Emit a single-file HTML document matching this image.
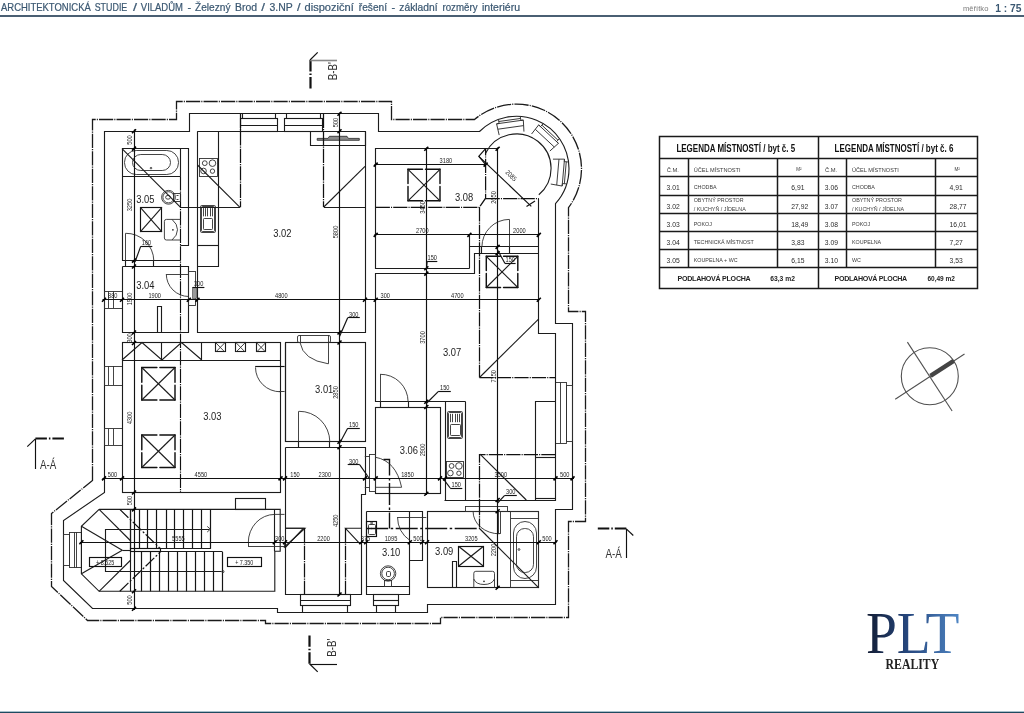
<!DOCTYPE html>
<html lang="cs"><head><meta charset="utf-8"><title>Architektonická studie</title>
<style>
html,body{margin:0;padding:0;background:#fff;}
body{width:1024px;height:713px;overflow:hidden;position:relative;font-family:"Liberation Sans",sans-serif;}
#hdr{position:absolute;left:0;top:0;width:1024px;height:15px;border-bottom:2px solid #4a5f73;}
#ftr{position:absolute;left:0;top:711px;width:1024px;height:2px;background:linear-gradient(#a9c0cb 0,#a9c0cb 40%,#1f4a60 40%,#1f4a60 100%);}
svg{position:absolute;left:0;top:0;will-change:transform;opacity:0.999;}
svg *{fill:none;}
svg tspan{fill:inherit;stroke:inherit;}
.w{stroke:#1c1c1c;stroke-width:1.12;}
.t{stroke:#303030;stroke-width:0.9;}
.d{stroke:#111;stroke-width:1.15;}
.st{stroke:#151515;stroke-width:1.2;}
.kd2{stroke:#111;stroke-width:1.2;stroke-dasharray:12 2 2 2;}
.o{stroke:#1a1a1a;stroke-width:1.3;stroke-dasharray:14.2 1.1 1.1 1.1;}
.k{stroke:#111;stroke-width:1.5;stroke-dasharray:9 1.5;}
.kd{stroke:#111;stroke-width:1.25;stroke-dasharray:14.2 1.1 1.1 1.1;}
.ks{stroke:#111;stroke-width:1.45;stroke-linecap:round;}
.sg{stroke:#888;stroke-width:1.6;}
.tb{stroke:#1a1a1a;stroke-width:1.5;}
.tk{stroke:#000;stroke-width:1.6;}
.ax{stroke:#111;stroke-width:1.15;stroke-dasharray:14.2 1.1 1.1 1.1;}
.k2{stroke:#111;stroke-width:1.4;stroke-dasharray:22 2.5 2.5 2.5;}
svg .tvf{fill:#8a8a8a;stroke:#222;stroke-width:0.8;}
svg .gf{fill:#999;stroke:#444;stroke-width:0.6;}
svg .tf{fill:#333;stroke:none;}
.sk{stroke:#111;stroke-width:2.2;stroke-dasharray:11.5 2 1.5 2;}
.cp{stroke:#505050;stroke-width:1.1;}
.cpb{stroke:#444;stroke-width:4.4;}
svg text.logo{font-family:"Liberation Serif",serif;fill:url(#lg);}
svg text.logo2{font-family:"Liberation Serif",serif;fill:#222;font-weight:bold;}
text.lp2{font-weight:bold;fill:#222;}
svg text{fill:#222;stroke:none;font-family:"Liberation Sans",sans-serif;}
text.dm{fill:#1c1c1c;}
text.rm{fill:#222;}
svg text.hd{fill:#3b5872;stroke:#3b5872;stroke-width:0.22;}
svg text.hs{fill:#7a7a7a;}
svg text.hb{fill:#3b5872;font-weight:bold;}
text.sec{fill:#333;}
text.lt{font-weight:bold;fill:#111;}
text.lc{fill:#3a3a3a;}
text.ln{fill:#2a2a2a;}
text.lp{font-weight:bold;fill:#222;}
</style></head>
<body>
<div id="hdr"></div>
<svg width="1024" height="713" viewBox="0 0 1024 713">
<path class="o" d="M92.5,480.5 L92.5,119.5 L176.5,119.5 L176.5,101.5 L391.5,101.5 L391.5,119.5 L474.5,119.5 A65,65 0 0 1 581.5,168.5 A65,65 0 0 1 568.5,207.6 L568.5,311.5 L585.5,311.5 L585.5,521.5 L568.5,521.5 L568.5,617.5 L440.5,617.5 L440.5,623.5 L265.5,623.5 L265.5,620.5 L87.5,620.5 L51.5,586.5 L51.5,513.5 Z"/>
<path class="w" d="M104.5,492.5 L104.5,131.5 L189.5,131.5 L189.5,113.5 L378.5,113.5 L378.5,131.5 L479.5,131.5 A52.5,52.5 0 0 1 569,168.5 A52.5,52.5 0 0 1 555.5,203.65 L555.5,323.5 L572.5,323.5 L572.5,509.5 L555.5,509.5 L555.5,604.5 L427.5,604.5 L427.5,612.5 L277.5,612.5 L277.5,608.5 L92.5,608.5 L63.5,580.5 L63.5,520.5 Z"/>
<rect class="w" x="240.5" y="118.5" width="37.0" height="13.0"/>
<line class="w" x1="240.6" y1="125.5" x2="277.3" y2="125.5"/>
<polyline class="w" points="242.5,118.5 242.5,113.5"/>
<polyline class="w" points="275.5,118.5 275.5,113.5"/>
<rect class="w" x="284.5" y="118.5" width="38.0" height="13.0"/>
<line class="w" x1="284.8" y1="125.5" x2="322.6" y2="125.5"/>
<polyline class="w" points="286.5,118.5 286.5,113.5"/>
<polyline class="w" points="320.5,118.5 320.5,113.5"/>
<rect class="t" x="104.5" y="291.5" width="18.0" height="17.0"/>
<line class="t" x1="108.5" y1="291.3" x2="108.5" y2="308.1"/>
<line class="t" x1="113.5" y1="291.3" x2="113.5" y2="308.1"/>
<rect class="t" x="104.5" y="366.5" width="18.0" height="19.0"/>
<line class="t" x1="108.5" y1="366" x2="108.5" y2="385"/>
<line class="t" x1="113.5" y1="366" x2="113.5" y2="385"/>
<rect class="t" x="104.5" y="428.5" width="18.0" height="17.0"/>
<line class="t" x1="108.5" y1="428.8" x2="108.5" y2="445"/>
<line class="t" x1="113.5" y1="428.8" x2="113.5" y2="445"/>
<rect class="t" x="555.5" y="382.5" width="11.0" height="61.0"/>
<line class="t" x1="560.5" y1="382.5" x2="560.5" y2="443.3"/>
<rect class="t" x="566.5" y="385.5" width="6.0" height="56.0"/>
<rect class="w" x="300.5" y="594.5" width="50.0" height="11.0"/>
<line class="w" x1="300" y1="600.5" x2="350" y2="600.5"/>
<polyline class="w" points="302.5,605.5 302.5,612.5"/>
<polyline class="w" points="347.5,605.5 347.5,612.5"/>
<rect class="w" x="373.5" y="594.5" width="25.0" height="11.0"/>
<line class="w" x1="373.2" y1="600.5" x2="398.7" y2="600.5"/>
<polyline class="w" points="376.5,605.5 376.5,612.5"/>
<polyline class="w" points="395.5,605.5 395.5,612.5"/>
<rect class="t" x="63.5" y="534.5" width="6.0" height="31.0"/>
<rect class="t" x="69.5" y="532.5" width="12.0" height="35.0"/>
<line class="t" x1="74.5" y1="532.3" x2="74.5" y2="567.8"/>
<line class="t" x1="76.5" y1="532.3" x2="76.5" y2="567.8"/>
<g transform="translate(516.5 168.5) rotate(-8)"><path class="t" d="M-12.5,-35.5 L-13.5,-47 L-11,-47 L-11,-51.5 M12.5,-35.5 L13.5,-47 L11,-47 L11,-51.5 M-13.5,-47 L13.5,-47 M-13,-41.5 L13,-41.5 M-11,-49 L11,-49"/></g>
<g transform="translate(516.5 168.5) rotate(43)"><path class="t" d="M-12.5,-35.5 L-13.5,-47 L-11,-47 L-11,-51.5 M12.5,-35.5 L13.5,-47 L11,-47 L11,-51.5 M-13.5,-47 L13.5,-47 M-13,-41.5 L13,-41.5 M-11,-49 L11,-49"/></g>
<g transform="translate(516.5 168.5) rotate(95)"><path class="t" d="M-12.5,-35.5 L-13.5,-47 L-11,-47 L-11,-51.5 M12.5,-35.5 L13.5,-47 L11,-47 L11,-51.5 M-13.5,-47 L13.5,-47 M-13,-41.5 L13,-41.5 M-11,-49 L11,-49"/></g>
<path class="w" d="M485.6,153.2 A34.5,34.5 0 1 1 538.8,194.8"/>
<polyline class="w" points="122.5,260.5 122.5,148.5 188.5,148.5 188.5,245.5 180.5,245.5"/>
<line class="w" x1="122" y1="260.5" x2="180.6" y2="260.5"/>
<line class="w" x1="122" y1="176.5" x2="180.6" y2="176.5"/>
<line class="w" x1="180.5" y1="148.6" x2="180.5" y2="176.3"/>
<line class="w" x1="125.5" y1="260.6" x2="125.5" y2="266.5"/>
<line class="w" x1="153.5" y1="260.6" x2="153.5" y2="266.5"/>
<line class="ax" x1="180.5" y1="176.3" x2="180.5" y2="492.5"/>
<polyline class="w" points="122.5,266.5 188.5,266.5 188.5,332.5 122.5,332.5 122.5,266.5"/>
<polyline class="w" points="157.5,332.5 157.5,306.5 161.5,306.5 161.5,332.5"/>
<polyline class="w" points="197.5,131.5 197.5,332.5 365.5,332.5 365.5,131.5 197.5,131.5"/>
<polyline class="w" points="310.5,131.5 310.5,145.5 365.5,145.5 365.5,131.5"/>
<path class="tvf" d="M317.2,140.3 L359.3,140.3 L359.3,138.4 L348.4,138.4 L347,136.3 L329.4,136.3 L328,138.4 L317.2,138.4 Z"/>
<polyline class="w" points="197.5,131.5 218.5,131.5 218.5,266.5 197.5,266.5"/>
<line class="w" x1="197.5" y1="245.5" x2="218.8" y2="245.5"/>
<rect class="w" x="122.5" y="342.5" width="158.0" height="150.0"/>
<line class="w" x1="285.5" y1="342.5" x2="285.5" y2="442"/>
<line class="w" x1="122" y1="360.5" x2="280.5" y2="360.5"/>
<line class="w" x1="161.5" y1="342.5" x2="161.5" y2="360"/>
<line class="w" x1="201.5" y1="342.5" x2="201.5" y2="360"/>
<polyline class="w" points="122,360 142,342.5 161.9,360 181.5,342.5 201.8,360"/>
<rect class="w" x="215.5" y="342.5" width="10.0" height="9.0"/>
<line class="t" x1="216.0" y1="343" x2="224.6" y2="351.8"/>
<line class="t" x1="216.0" y1="351.8" x2="224.6" y2="343"/>
<rect class="w" x="235.5" y="342.5" width="10.0" height="9.0"/>
<line class="t" x1="236.3" y1="343" x2="244.9" y2="351.8"/>
<line class="t" x1="236.3" y1="351.8" x2="244.9" y2="343"/>
<rect class="w" x="256.5" y="342.5" width="9.0" height="9.0"/>
<line class="t" x1="256.8" y1="343" x2="265.4" y2="351.8"/>
<line class="t" x1="256.8" y1="351.8" x2="265.4" y2="343"/>
<rect class="w" x="285.5" y="342.5" width="80.0" height="99.0"/>
<polyline class="w" points="285.5,447.5 365.5,447.5 365.5,494.5 361.5,494.5 361.5,594.5 285.5,594.5 285.5,447.5"/>
<line class="w" x1="298.5" y1="441.8" x2="298.5" y2="447.2"/>
<line class="w" x1="329.5" y1="441.8" x2="329.5" y2="447.2"/>
<rect class="w" x="375.5" y="407.5" width="65.0" height="86.0"/>
<line class="w" x1="380.5" y1="401.7" x2="380.5" y2="407"/>
<line class="w" x1="408.5" y1="401.7" x2="408.5" y2="407"/>
<polyline class="w" points="469.5,268.5 375.5,268.5 375.5,148.5 497.5,148.5"/>
<polyline class="w" points="469.5,268.5 469.5,235.5"/>
<line class="w" x1="469.4" y1="246.5" x2="538.8" y2="246.5"/>
<line class="w" x1="481.5" y1="246.9" x2="481.5" y2="253.2"/>
<line class="w" x1="509.5" y1="246.9" x2="509.5" y2="253.2"/>
<polyline class="w" points="465.5,401.5 375.5,401.5 375.5,273.5 474.5,273.5 474.5,253.5 538.5,253.5"/>
<polyline class="w" points="538.5,198.5 538.5,333.5 555.5,333.5 555.5,500.5 444.5,500.5"/>
<polyline class="w" points="445.5,401.5 445.5,500.5"/>
<polyline class="w" points="465.5,401.5 465.5,500.5"/>
<polyline class="w" points="555.5,401.5 535.5,401.5 535.5,500.5"/>
<line class="w" x1="535.5" y1="457.5" x2="555.5" y2="457.5"/>
<line class="w" x1="535.5" y1="498.5" x2="555.5" y2="498.5"/>
<polyline class="w" points="366.5,511.5 409.5,511.5 409.5,594.5 366.5,594.5 366.5,511.5"/>
<line class="w" x1="366.2" y1="586.5" x2="409.8" y2="586.5"/>
<polyline class="w" points="409.5,511.5 422.5,511.5 422.5,560.5 409.5,560.5"/>
<rect class="w" x="427.5" y="511.5" width="111.0" height="76.0"/>
<polyline class="w" points="452.5,587.5 452.5,561.5 456.5,561.5 456.5,587.5"/>
<polyline class="w" points="99.1,509.4 280.2,509.4 280.2,551.3 274.8,551.3 274.8,591.3 99.1,591.3 81.4,573.8 81.4,526.3 99.1,509.4"/>
<line class="w" x1="274.5" y1="509.4" x2="274.5" y2="551.3"/>
<rect class="w" x="235.5" y="498.5" width="30.0" height="11.0"/>
<text class="hd" font-size="10.4" y="11.4"><tspan x="1" textLength="89.8" lengthAdjust="spacingAndGlyphs">ARCHITEKTONICKÁ</tspan> <tspan x="94.7" textLength="32.6" lengthAdjust="spacingAndGlyphs">STUDIE</tspan> <tspan x="133" textLength="4" lengthAdjust="spacingAndGlyphs">/</tspan> <tspan x="140.8" textLength="42.2" lengthAdjust="spacingAndGlyphs">VILADŮM</tspan> <tspan x="187.6" textLength="3.6" lengthAdjust="spacingAndGlyphs">-</tspan> <tspan x="195" textLength="35.5" lengthAdjust="spacingAndGlyphs">Železný</tspan> <tspan x="235" textLength="22" lengthAdjust="spacingAndGlyphs">Brod</tspan> <tspan x="261.3" textLength="3.7" lengthAdjust="spacingAndGlyphs">/</tspan> <tspan x="269.5" textLength="23.0" lengthAdjust="spacingAndGlyphs">3.NP</tspan> <tspan x="297" textLength="3.5" lengthAdjust="spacingAndGlyphs">/</tspan> <tspan x="304.5" textLength="49.3" lengthAdjust="spacingAndGlyphs">dispoziční</tspan> <tspan x="358.8" textLength="28.2" lengthAdjust="spacingAndGlyphs">řešení</tspan> <tspan x="391.4" textLength="3.6" lengthAdjust="spacingAndGlyphs">-</tspan> <tspan x="399.3" textLength="38.2" lengthAdjust="spacingAndGlyphs">základní</tspan> <tspan x="442.5" textLength="35.0" lengthAdjust="spacingAndGlyphs">rozměry</tspan> <tspan x="482" textLength="38" lengthAdjust="spacingAndGlyphs">interiéru</tspan> </text>
<text class="hs" font-size="7.6" x="963" y="11" textLength="25.4" lengthAdjust="spacingAndGlyphs">měřítko</text>
<text class="hb" font-size="10.6" x="995.2" y="11.5" textLength="26.2" lengthAdjust="spacingAndGlyphs">1 : 75</text>
<line class="st" x1="130.5" y1="509.4" x2="130.5" y2="548.7"/>
<line class="st" x1="139.5" y1="509.4" x2="139.5" y2="548.7"/>
<line class="st" x1="147.5" y1="509.4" x2="147.5" y2="548.7"/>
<line class="st" x1="156.5" y1="509.4" x2="156.5" y2="548.7"/>
<line class="st" x1="166.5" y1="509.4" x2="166.5" y2="548.7"/>
<line class="st" x1="174.5" y1="509.4" x2="174.5" y2="548.7"/>
<line class="st" x1="183.5" y1="509.4" x2="183.5" y2="548.7"/>
<line class="st" x1="192.5" y1="509.4" x2="192.5" y2="548.7"/>
<line class="st" x1="201.5" y1="509.4" x2="201.5" y2="548.7"/>
<line class="st" x1="210.5" y1="509.4" x2="210.5" y2="548.7"/>
<line class="w" x1="130.4" y1="548.5" x2="210.8" y2="548.5"/>
<line class="st" x1="141.5" y1="551.9" x2="141.5" y2="591.3"/>
<line class="st" x1="150.5" y1="551.9" x2="150.5" y2="591.3"/>
<line class="st" x1="159.5" y1="551.9" x2="159.5" y2="591.3"/>
<line class="st" x1="168.5" y1="551.9" x2="168.5" y2="591.3"/>
<line class="st" x1="177.5" y1="551.9" x2="177.5" y2="591.3"/>
<line class="st" x1="186.5" y1="551.9" x2="186.5" y2="591.3"/>
<line class="st" x1="195.5" y1="551.9" x2="195.5" y2="591.3"/>
<line class="st" x1="204.5" y1="551.9" x2="204.5" y2="591.3"/>
<line class="st" x1="213.5" y1="551.9" x2="213.5" y2="591.3"/>
<line class="st" x1="222.5" y1="551.9" x2="222.5" y2="591.3"/>
<line class="w" x1="130.4" y1="551.5" x2="222.5" y2="551.5"/>
<line class="w" x1="130.5" y1="509.4" x2="130.5" y2="591.3"/>
<rect class="d" x="130.5" y="548.5" width="30.0" height="3.0"/>
<line class="w" x1="99.1" y1="509.4" x2="130.8" y2="541"/>
<line class="w" x1="81.4" y1="526.3" x2="122.3" y2="550.3"/>
<line class="w" x1="81.4" y1="573.8" x2="122.3" y2="550.3"/>
<line class="w" x1="99.1" y1="591.3" x2="130.8" y2="560"/>
<line class="w" x1="122.3" y1="550.5" x2="130.4" y2="550.5"/>
<line class="kd2" x1="119.8" y1="509.4" x2="160.4" y2="548.7"/>
<line class="kd2" x1="119.8" y1="591.3" x2="160.4" y2="551.9"/>
<polyline class="w" points="209.5,529.5 105.5,529.5 105.5,571.5 221.5,571.5"/>
<polyline class="t" points="207.2,526.4 210.4,529.2 207.2,532"/>
<circle class="t" cx="222.9" cy="571.6" r="1.1"/>
<rect class="d" x="89.5" y="557.5" width="32.0" height="9.0"/>
<rect class="d" x="227.5" y="557.5" width="34.0" height="9.0"/>
<text class="dm" font-size="6.6" text-anchor="middle" transform="translate(105.2 564.5) scale(0.82 1)">+ 8.525</text>
<text class="dm" font-size="6.6" text-anchor="middle" transform="translate(244.3 564.5) scale(0.82 1)">+ 7.350</text>
<rect class="t" x="124.5" y="150.5" width="54.0" height="24.0" rx="11.7"/>
<rect class="t" x="132.5" y="154.5" width="38.0" height="16.0" rx="8.3"/>
<circle class="t" cx="151" cy="168.1" r="0.8"/>
<circle class="t" cx="168.5" cy="197.3" r="6.9"/>
<circle class="t" cx="168.5" cy="197.3" r="5.6"/>
<ellipse class="t" cx="168" cy="197.3" rx="2.4" ry="1.9"/>
<rect class="t" x="173.5" y="193.5" width="7.0" height="8.0"/>
<line class="t" x1="176.5" y1="195.5" x2="178.5" y2="195.5"/>
<line class="t" x1="176.5" y1="199.5" x2="178.5" y2="199.5"/>
<rect class="d" x="140.5" y="207.5" width="21.0" height="24.0"/>
<line class="w" x1="140.3" y1="207.3" x2="161.9" y2="231.9"/>
<line class="w" x1="140.3" y1="231.9" x2="161.9" y2="207.3"/>
<path class="t" d="M180.6,219.4 L166.4,219.4 Q164.4,219.4 164.4,221.4 L164.4,238 Q164.4,240 166.4,240 L180.6,240 M172,219.4 Q177.5,224 177.5,229.7 Q177.5,235.5 172,240"/>
<circle class="tf" cx="172.9" cy="229.8" r="0.9"/>
<rect class="t" x="199.5" y="158.5" width="18.0" height="18.0"/>
<circle class="t" cx="204.77" cy="163.168" r="2.4"/>
<circle class="t" cx="212.467" cy="163.168" r="3.3"/>
<circle class="t" cx="203.517" cy="170.951" r="2.8"/>
<circle class="t" cx="212.467" cy="171.132" r="2.2"/>
<rect class="t" x="200.5" y="205.5" width="15.0" height="27.0" rx="1.2"/>
<rect class="t" x="201.5" y="206.5" width="13.0" height="25.0" rx="1"/>
<line class="t" x1="203.5" y1="208.1" x2="203.5" y2="216.36"/>
<line class="t" x1="205.5" y1="208.1" x2="205.5" y2="216.36"/>
<line class="t" x1="207.5" y1="208.1" x2="207.5" y2="216.36"/>
<line class="t" x1="210.5" y1="208.1" x2="210.5" y2="216.36"/>
<line class="t" x1="212.5" y1="208.1" x2="212.5" y2="216.36"/>
<rect class="t" x="203.5" y="218.5" width="9.0" height="11.0" rx="0.8"/>
<rect class="t" x="447.5" y="411.5" width="15.0" height="27.0" rx="1.2"/>
<rect class="t" x="448.5" y="412.5" width="13.0" height="25.0" rx="1"/>
<line class="t" x1="450.5" y1="413.8" x2="450.5" y2="422.18"/>
<line class="t" x1="452.5" y1="413.8" x2="452.5" y2="422.18"/>
<line class="t" x1="455.5" y1="413.8" x2="455.5" y2="422.18"/>
<line class="t" x1="457.5" y1="413.8" x2="457.5" y2="422.18"/>
<line class="t" x1="459.5" y1="413.8" x2="459.5" y2="422.18"/>
<rect class="t" x="450.5" y="424.5" width="10.0" height="11.0" rx="0.8"/>
<rect class="t" x="446.5" y="461.5" width="17.0" height="16.0"/>
<circle class="t" cx="451.6" cy="465.94800000000004" r="2.4"/>
<circle class="t" cx="458.91" cy="465.94800000000004" r="3.3"/>
<circle class="t" cx="450.41" cy="473.086" r="2.8"/>
<circle class="t" cx="458.91" cy="473.252" r="2.2"/>
<rect class="d" x="366.5" y="521.5" width="10.0" height="15.0"/>
<rect class="t" x="368.5" y="524.5" width="7.0" height="10.0" rx="1"/>
<circle class="t" cx="371.6" cy="523" r="0.9"/>
<circle class="tf" cx="371.6" cy="528.5" r="0.8"/>
<circle class="t" cx="388.1" cy="573.5" r="7.7"/>
<circle class="t" cx="388.1" cy="573.5" r="6.3"/>
<rect class="t" x="386.5" y="571.5" width="4.0" height="5.0" rx="1.2"/>
<rect class="t" x="384.5" y="580.5" width="7.0" height="6.0"/>
<rect class="d" x="458.5" y="546.5" width="25.0" height="20.0"/>
<line class="w" x1="458.5" y1="546.3" x2="483.5" y2="566.3"/>
<line class="w" x1="458.5" y1="566.3" x2="483.5" y2="546.3"/>
<path class="t" d="M473.8,587.8 L473.8,573.3 Q473.8,571.3 475.8,571.3 L492.5,571.3 Q494.5,571.3 494.5,573.3 L494.5,587.8 M473.8,579 Q476,584.5 484,584.5 Q492,584.5 494.5,579"/>
<circle class="tf" cx="484" cy="581.3" r="0.9"/>
<rect class="t" x="510.5" y="511.5" width="28.0" height="76.0"/>
<line class="t" x1="510.8" y1="518.5" x2="538.8" y2="518.5"/>
<line class="t" x1="510.8" y1="580.5" x2="538.8" y2="580.5"/>
<rect class="t" x="513.5" y="521.5" width="23.0" height="57.0" rx="11.5"/>
<rect class="t" x="516.5" y="528.5" width="17.0" height="44.0" rx="8.2"/>
<circle class="t" cx="519" cy="549.5" r="0.9"/>
<line class="t" x1="125.5" y1="233.3" x2="125.5" y2="260.6"/>
<path class="t" d="M125.6,233.3 A27.8,27.8 0 0 1 153.8,260.6"/>
<rect class="t" x="188.5" y="271.5" width="7.0" height="34.0"/>
<rect class="gf" x="192.5" y="287.5" width="4.0" height="11.0"/>
<line class="t" x1="166.3" y1="274.5" x2="188.8" y2="274.5"/>
<path class="t" d="M166.3,274 A22.5,22.5 0 0 0 188.8,296.5"/>
<line class="d" x1="255.2" y1="366.5" x2="284.6" y2="366.5"/>
<line class="t" x1="278.7" y1="391.5" x2="284.6" y2="391.5"/>
<path class="t" d="M255.5,367.4 A25,24.4 0 0 0 280.5,391.8"/>
<rect class="t" x="297.5" y="335.5" width="33.0" height="7.0" rx="1.5"/>
<line class="t" x1="300.5" y1="335" x2="300.5" y2="342.5"/>
<line class="t" x1="328.5" y1="335" x2="328.5" y2="342.5"/>
<line class="t" x1="328.5" y1="342.5" x2="328.5" y2="363.8"/>
<path class="t" d="M300,342.5 Q303,360 328.3,363.8"/>
<line class="t" x1="298.5" y1="411.3" x2="298.5" y2="441.8"/>
<path class="t" d="M298.8,411.3 A30.6,30.6 0 0 1 329.8,441.8"/>
<line class="t" x1="380.5" y1="374.3" x2="380.5" y2="401.7"/>
<path class="t" d="M380,374.3 A27.5,27.5 0 0 1 408.1,401.7"/>
<rect class="t" x="369.5" y="454.5" width="6.0" height="37.0"/>
<line class="t" x1="364.8" y1="456.5" x2="369.8" y2="456.5"/>
<line class="t" x1="364.8" y1="487.5" x2="369.8" y2="487.5"/>
<path class="t" d="M375.6,457.3 Q396,461 401.6,487.3 L375.6,487.3"/>
<polyline class="k2" points="383.5,459.5 389.5,459.5 389.5,528.5"/>
<line class="k2" x1="366.2" y1="528.5" x2="478.8" y2="528.5"/>
<line class="t" x1="509.5" y1="219.4" x2="509.5" y2="246.9"/>
<path class="t" d="M481.9,246.9 A27.5,27.5 0 0 1 509.4,219.4"/>
<line class="t" x1="397.5" y1="517.5" x2="426.3" y2="517.5"/>
<path class="t" d="M397.5,517 A28.8,28.8 0 0 0 410,540.5"/>
<rect class="t" x="465.5" y="506.5" width="42.0" height="5.0"/>
<rect class="t" x="498.5" y="511.5" width="2.0" height="22.0"/>
<path class="t" d="M473.1,511.5 A26.3,22.3 0 0 0 499.4,533.8"/>
<rect class="t" x="248.5" y="542.5" width="36.0" height="4.0"/>
<path class="t" d="M248.3,542.5 A26.5,28 0 0 1 274.8,514.4 L284.5,514.4"/>
<polyline class="w" points="285.8,528.2 303.5,528.2 284.8,548.1"/>
<line class="w" x1="122" y1="148.6" x2="180.6" y2="207.3"/>
<line class="w" x1="180.6" y1="207.5" x2="240" y2="207.5"/>
<line class="kd" x1="240.5" y1="113.8" x2="240.5" y2="207.3"/>
<line class="w" x1="197.5" y1="165" x2="240" y2="207.3"/>
<line class="kd" x1="323.5" y1="113.8" x2="323.5" y2="207"/>
<line class="w" x1="323.8" y1="207.5" x2="365" y2="207.5"/>
<line class="w" x1="323.8" y1="207" x2="365" y2="166.3"/>
<polyline class="kd" points="375.7,207.3 479.4,207.3 485.6,198.2 485.6,148.7"/>
<line class="kd" x1="485.6" y1="198.5" x2="538.8" y2="198.5"/>
<line class="kd" x1="479.5" y1="207.3" x2="479.5" y2="377.5"/>
<line class="kd" x1="479.4" y1="377.5" x2="555.5" y2="377.5"/>
<line class="w" x1="480" y1="377" x2="538.8" y2="318.8"/>
<polyline class="kd" points="555.5,454.5 479.5,454.5 479.5,527.5"/>
<line class="w" x1="480" y1="454.2" x2="526.3" y2="500"/>
<line class="w" x1="479" y1="528" x2="538.8" y2="587.8"/>
<polyline class="w" points="283.8,547.5 305,528.3 285,528.3"/>
<line class="kd" x1="304.5" y1="528.3" x2="304.5" y2="594.5"/>
<polyline class="w" points="360,543.8 345.5,528.3 361.4,528.3"/>
<line class="kd" x1="345.5" y1="528.3" x2="345.5" y2="594.5"/>
<line class="ks" stroke-dasharray="15.10 3.0" x1="141.8" y1="367.5" x2="175" y2="367.5"/>
<line class="ks" stroke-dasharray="14.75 3.0" x1="175" y1="367.5" x2="175" y2="400"/>
<line class="ks" stroke-dasharray="15.10 3.0" x1="175" y1="400" x2="141.8" y2="400"/>
<line class="ks" stroke-dasharray="14.75 3.0" x1="141.8" y1="400" x2="141.8" y2="367.5"/>
<line class="w" x1="141.8" y1="367.5" x2="175" y2="400"/>
<line class="w" x1="141.8" y1="400" x2="175" y2="367.5"/>
<line class="ks" stroke-dasharray="15.10 3.0" x1="141.8" y1="435" x2="175" y2="435"/>
<line class="ks" stroke-dasharray="14.75 3.0" x1="175" y1="435" x2="175" y2="467.5"/>
<line class="ks" stroke-dasharray="15.10 3.0" x1="175" y1="467.5" x2="141.8" y2="467.5"/>
<line class="ks" stroke-dasharray="14.75 3.0" x1="141.8" y1="467.5" x2="141.8" y2="435"/>
<line class="w" x1="141.8" y1="435" x2="175" y2="467.5"/>
<line class="w" x1="141.8" y1="467.5" x2="175" y2="435"/>
<line class="ks" stroke-dasharray="14.50 3.0" x1="408" y1="169.3" x2="440" y2="169.3"/>
<line class="ks" stroke-dasharray="14.25 3.0" x1="440" y1="169.3" x2="440" y2="200.8"/>
<line class="ks" stroke-dasharray="14.50 3.0" x1="440" y1="200.8" x2="408" y2="200.8"/>
<line class="ks" stroke-dasharray="14.25 3.0" x1="408" y1="200.8" x2="408" y2="169.3"/>
<line class="w" x1="408" y1="169.3" x2="440" y2="200.8"/>
<line class="w" x1="408" y1="200.8" x2="440" y2="169.3"/>
<line class="ks" stroke-dasharray="14.25 3.0" x1="486.3" y1="256.3" x2="517.8" y2="256.3"/>
<line class="ks" stroke-dasharray="14.10 3.0" x1="517.8" y1="256.3" x2="517.8" y2="287.5"/>
<line class="ks" stroke-dasharray="14.25 3.0" x1="517.8" y1="287.5" x2="486.3" y2="287.5"/>
<line class="ks" stroke-dasharray="14.10 3.0" x1="486.3" y1="287.5" x2="486.3" y2="256.3"/>
<line class="w" x1="486.3" y1="256.3" x2="517.8" y2="287.5"/>
<line class="w" x1="486.3" y1="287.5" x2="517.8" y2="256.3"/>
<line class="d" x1="102.5" y1="299.5" x2="539.5" y2="299.5"/>
<line class="tk" x1="102.0" y1="301.7" x2="106.0" y2="297.7"/>
<line class="tk" x1="120.0" y1="301.7" x2="124.0" y2="297.7"/>
<line class="tk" x1="186.8" y1="301.7" x2="190.8" y2="297.7"/>
<line class="tk" x1="195.5" y1="301.7" x2="199.5" y2="297.7"/>
<line class="tk" x1="363.0" y1="301.7" x2="367.0" y2="297.7"/>
<line class="tk" x1="373.7" y1="301.7" x2="377.7" y2="297.7"/>
<line class="tk" x1="536.8" y1="301.7" x2="540.8" y2="297.7"/>
<text class="dm" font-size="6.9" text-anchor="middle" transform="translate(112.8 298.09999999999997) scale(0.82 1)">880</text>
<text class="dm" font-size="6.9" text-anchor="middle" transform="translate(154.7 298.09999999999997) scale(0.82 1)">1900</text>
<text class="dm" font-size="6.9" text-anchor="middle" transform="translate(281.3 298.09999999999997) scale(0.82 1)">4800</text>
<text class="dm" font-size="6.9" text-anchor="middle" transform="translate(385.2 298.09999999999997) scale(0.82 1)">300</text>
<text class="dm" font-size="6.9" text-anchor="middle" transform="translate(457.3 298.09999999999997) scale(0.82 1)">4700</text>
<line class="d" x1="102.5" y1="478.5" x2="574" y2="478.5"/>
<line class="tk" x1="102.0" y1="480.4" x2="106.0" y2="476.4"/>
<line class="tk" x1="120.0" y1="480.4" x2="124.0" y2="476.4"/>
<line class="tk" x1="278.5" y1="480.4" x2="282.5" y2="476.4"/>
<line class="tk" x1="283.0" y1="480.4" x2="287.0" y2="476.4"/>
<line class="tk" x1="363.0" y1="480.4" x2="367.0" y2="476.4"/>
<line class="tk" x1="373.7" y1="480.4" x2="377.7" y2="476.4"/>
<line class="tk" x1="438.0" y1="480.4" x2="442.0" y2="476.4"/>
<line class="tk" x1="443.0" y1="480.4" x2="447.0" y2="476.4"/>
<line class="tk" x1="553.5" y1="480.4" x2="557.5" y2="476.4"/>
<line class="tk" x1="570.5" y1="480.4" x2="574.5" y2="476.4"/>
<text class="dm" font-size="6.9" text-anchor="middle" transform="translate(112.5 476.79999999999995) scale(0.82 1)">500</text>
<text class="dm" font-size="6.9" text-anchor="middle" transform="translate(200.9 476.79999999999995) scale(0.82 1)">4550</text>
<text class="dm" font-size="6.9" text-anchor="middle" transform="translate(295 476.79999999999995) scale(0.82 1)">150</text>
<text class="dm" font-size="6.9" text-anchor="middle" transform="translate(324.8 476.79999999999995) scale(0.82 1)">2300</text>
<text class="dm" font-size="6.9" text-anchor="middle" transform="translate(407.5 476.79999999999995) scale(0.82 1)">1850</text>
<text class="dm" font-size="6.9" text-anchor="middle" transform="translate(500.8 476.79999999999995) scale(0.82 1)">3500</text>
<text class="dm" font-size="6.9" text-anchor="middle" transform="translate(564.8 476.79999999999995) scale(0.82 1)">500</text>
<line class="d" x1="79.8" y1="542.5" x2="556.5" y2="542.5"/>
<line class="tk" x1="79.4" y1="544.3" x2="83.4" y2="540.3"/>
<line class="tk" x1="272.8" y1="544.3" x2="276.8" y2="540.3"/>
<line class="tk" x1="283.0" y1="544.3" x2="287.0" y2="540.3"/>
<line class="tk" x1="359.4" y1="544.3" x2="363.4" y2="540.3"/>
<line class="tk" x1="364.2" y1="544.3" x2="368.2" y2="540.3"/>
<line class="tk" x1="407.8" y1="544.3" x2="411.8" y2="540.3"/>
<line class="tk" x1="420.1" y1="544.3" x2="424.1" y2="540.3"/>
<line class="tk" x1="425.0" y1="544.3" x2="429.0" y2="540.3"/>
<line class="tk" x1="536.8" y1="544.3" x2="540.8" y2="540.3"/>
<line class="tk" x1="553.5" y1="544.3" x2="557.5" y2="540.3"/>
<text class="dm" font-size="6.9" text-anchor="middle" transform="translate(178.4 540.6999999999999) scale(0.82 1)">5555</text>
<text class="dm" font-size="6.9" text-anchor="middle" transform="translate(279.8 540.6999999999999) scale(0.82 1)">300</text>
<text class="dm" font-size="6.9" text-anchor="middle" transform="translate(323.5 540.6999999999999) scale(0.82 1)">2200</text>
<text class="dm" font-size="6.9" text-anchor="middle" transform="translate(365.5 540.6999999999999) scale(0.82 1)">375</text>
<text class="dm" font-size="6.9" text-anchor="middle" transform="translate(391 540.6999999999999) scale(0.82 1)">1095</text>
<text class="dm" font-size="6.9" text-anchor="middle" transform="translate(418 540.6999999999999) scale(0.82 1)">500</text>
<text class="dm" font-size="6.9" text-anchor="middle" transform="translate(471.3 540.6999999999999) scale(0.82 1)">3205</text>
<text class="dm" font-size="6.9" text-anchor="middle" transform="translate(547 540.6999999999999) scale(0.82 1)">500</text>
<line class="d" x1="374.5" y1="164.5" x2="486.5" y2="164.5"/>
<line class="tk" x1="373.7" y1="166.6" x2="377.7" y2="162.6"/>
<line class="tk" x1="483.6" y1="166.6" x2="487.6" y2="162.6"/>
<text class="dm" font-size="6.9" text-anchor="middle" transform="translate(445.9 163.0) scale(0.82 1)">3180</text>
<line class="d" x1="374.5" y1="234.5" x2="539.5" y2="234.5"/>
<line class="tk" x1="373.7" y1="236.9" x2="377.7" y2="232.9"/>
<line class="tk" x1="467.4" y1="236.9" x2="471.4" y2="232.9"/>
<line class="tk" x1="536.8" y1="236.9" x2="540.8" y2="232.9"/>
<text class="dm" font-size="6.9" text-anchor="middle" transform="translate(422.3 233.3) scale(0.82 1)">2700</text>
<text class="dm" font-size="6.9" text-anchor="middle" transform="translate(519.4 233.3) scale(0.82 1)">2000</text>
<line class="d" x1="134.5" y1="129.4" x2="134.5" y2="610"/>
<line class="tk" x1="132.0" y1="133.3" x2="136.0" y2="129.3"/>
<line class="tk" x1="132.0" y1="150.6" x2="136.0" y2="146.6"/>
<line class="tk" x1="132.0" y1="262.6" x2="136.0" y2="258.6"/>
<line class="tk" x1="132.0" y1="268.5" x2="136.0" y2="264.5"/>
<line class="tk" x1="132.0" y1="334.5" x2="136.0" y2="330.5"/>
<line class="tk" x1="132.0" y1="345.0" x2="136.0" y2="341.0"/>
<line class="tk" x1="132.0" y1="494.5" x2="136.0" y2="490.5"/>
<line class="tk" x1="132.0" y1="511.4" x2="136.0" y2="507.4"/>
<line class="tk" x1="132.0" y1="593.3" x2="136.0" y2="589.3"/>
<line class="tk" x1="132.0" y1="610.8" x2="136.0" y2="606.8"/>
<text class="dm" font-size="6.9" text-anchor="middle" transform="translate(132.3 140) rotate(-90) scale(0.82 1)">500</text>
<text class="dm" font-size="6.9" text-anchor="middle" transform="translate(132.3 205) rotate(-90) scale(0.82 1)">3250</text>
<text class="dm" font-size="6.9" text-anchor="middle" transform="translate(132.3 299) rotate(-90) scale(0.82 1)">1900</text>
<text class="dm" font-size="6.9" text-anchor="middle" transform="translate(132.3 338) rotate(-90) scale(0.82 1)">300</text>
<text class="dm" font-size="6.9" text-anchor="middle" transform="translate(132.3 418) rotate(-90) scale(0.82 1)">4300</text>
<text class="dm" font-size="6.9" text-anchor="middle" transform="translate(132.3 500.5) rotate(-90) scale(0.82 1)">500</text>
<text class="dm" font-size="6.9" text-anchor="middle" transform="translate(132.3 600) rotate(-90) scale(0.82 1)">500</text>
<line class="d" x1="339.5" y1="112.5" x2="339.5" y2="595.5"/>
<line class="tk" x1="337.5" y1="115.8" x2="341.5" y2="111.8"/>
<line class="tk" x1="337.5" y1="133.3" x2="341.5" y2="129.3"/>
<line class="tk" x1="337.5" y1="334.5" x2="341.5" y2="330.5"/>
<line class="tk" x1="337.5" y1="344.5" x2="341.5" y2="340.5"/>
<line class="tk" x1="337.5" y1="443.8" x2="341.5" y2="439.8"/>
<line class="tk" x1="337.5" y1="449.2" x2="341.5" y2="445.2"/>
<line class="tk" x1="337.5" y1="596.5" x2="341.5" y2="592.5"/>
<text class="dm" font-size="6.9" text-anchor="middle" transform="translate(337.8 122.5) rotate(-90) scale(0.82 1)">500</text>
<text class="dm" font-size="6.9" text-anchor="middle" transform="translate(337.8 232) rotate(-90) scale(0.82 1)">5800</text>
<text class="dm" font-size="6.9" text-anchor="middle" transform="translate(337.8 392.5) rotate(-90) scale(0.82 1)">2850</text>
<text class="dm" font-size="6.9" text-anchor="middle" transform="translate(337.8 520.8) rotate(-90) scale(0.82 1)">4250</text>
<line class="d" x1="426.5" y1="147.5" x2="426.5" y2="495"/>
<line class="tk" x1="424.3" y1="150.7" x2="428.3" y2="146.7"/>
<line class="tk" x1="424.3" y1="270.2" x2="428.3" y2="266.2"/>
<line class="tk" x1="424.3" y1="275.6" x2="428.3" y2="271.6"/>
<line class="tk" x1="424.3" y1="403.7" x2="428.3" y2="399.7"/>
<line class="tk" x1="424.3" y1="409.0" x2="428.3" y2="405.0"/>
<line class="tk" x1="424.3" y1="495.8" x2="428.3" y2="491.8"/>
<text class="dm" font-size="6.9" text-anchor="middle" transform="translate(424.6 207.5) rotate(-90) scale(0.82 1)">3450</text>
<text class="dm" font-size="6.9" text-anchor="middle" transform="translate(424.6 337.5) rotate(-90) scale(0.82 1)">3700</text>
<text class="dm" font-size="6.9" text-anchor="middle" transform="translate(424.6 450) rotate(-90) scale(0.82 1)">2900</text>
<line class="d" x1="497.5" y1="147.5" x2="497.5" y2="589"/>
<line class="tk" x1="495.6" y1="150.7" x2="499.6" y2="146.7"/>
<line class="tk" x1="495.6" y1="248.9" x2="499.6" y2="244.9"/>
<line class="tk" x1="495.6" y1="255.2" x2="499.6" y2="251.2"/>
<line class="tk" x1="495.6" y1="502.0" x2="499.6" y2="498.0"/>
<line class="tk" x1="495.6" y1="513.3" x2="499.6" y2="509.3"/>
<line class="tk" x1="495.6" y1="589.8" x2="499.6" y2="585.8"/>
<text class="dm" font-size="6.9" text-anchor="middle" transform="translate(495.90000000000003 197.5) rotate(-90) scale(0.82 1)">2650</text>
<text class="dm" font-size="6.9" text-anchor="middle" transform="translate(495.90000000000003 376.3) rotate(-90) scale(0.82 1)">7150</text>
<text class="dm" font-size="6.9" text-anchor="middle" transform="translate(495.90000000000003 550) rotate(-90) scale(0.82 1)">2200</text>
<line class="d" x1="478.8" y1="156.3" x2="531.3" y2="206.3"/>
<polyline class="d" points="485.6,148.7 478.8,156.3 485.6,164.6"/>
<line class="d" x1="526.5" y1="206.5" x2="535" y2="201"/>
<text class="dm" font-size="6.9" text-anchor="middle" transform="translate(509.5 177.2) rotate(44) scale(0.82 1)">2085</text>
<text class="dm" font-size="6.9" text-anchor="middle" transform="translate(353.75 316.6) scale(0.82 1)">300</text>
<line class="d" x1="347.7" y1="317.5" x2="359.8" y2="317.5"/>
<line class="d" x1="347.7" y1="317.8" x2="339.5" y2="336.5"/>
<text class="dm" font-size="6.9" text-anchor="middle" transform="translate(353.75 427) scale(0.82 1)">150</text>
<line class="d" x1="347.7" y1="428.5" x2="359.8" y2="428.5"/>
<line class="d" x1="347.7" y1="428.2" x2="339.5" y2="443.5"/>
<text class="dm" font-size="6.9" text-anchor="middle" transform="translate(353.75 463.6) scale(0.82 1)">300</text>
<line class="d" x1="347.7" y1="464.5" x2="359.8" y2="464.5"/>
<line class="d" x1="359.8" y1="464.8" x2="369" y2="478"/>
<text class="dm" font-size="6.9" text-anchor="middle" transform="translate(432.25 260) scale(0.82 1)">150</text>
<line class="d" x1="427.2" y1="261.5" x2="437.3" y2="261.5"/>
<line class="d" x1="427.2" y1="261.2" x2="426.3" y2="270"/>
<text class="dm" font-size="6.9" text-anchor="middle" transform="translate(444.75 390) scale(0.82 1)">150</text>
<line class="d" x1="438.7" y1="391.5" x2="450.8" y2="391.5"/>
<line class="d" x1="438.7" y1="391.2" x2="426.3" y2="403.5"/>
<text class="dm" font-size="6.9" text-anchor="middle" transform="translate(456.25 486.8) scale(0.82 1)">150</text>
<line class="d" x1="450.2" y1="488.5" x2="462.3" y2="488.5"/>
<line class="d" x1="450.2" y1="488.0" x2="443" y2="478.4"/>
<text class="dm" font-size="6.9" text-anchor="middle" transform="translate(510.75 494.2) scale(0.82 1)">300</text>
<line class="d" x1="504.7" y1="495.5" x2="516.8" y2="495.5"/>
<line class="d" x1="504.7" y1="495.4" x2="497.6" y2="503"/>
<text class="dm" font-size="6.9" text-anchor="middle" transform="translate(510.3 262.4) scale(0.82 1)">150</text>
<line class="d" x1="505.0" y1="263.5" x2="515.6" y2="263.5"/>
<line class="d" x1="505.0" y1="263.6" x2="497.6" y2="250"/>
<text class="dm" font-size="6.9" text-anchor="middle" transform="translate(198.6 285.8) scale(0.82 1)">300</text>
<line class="d" x1="192.8" y1="287.5" x2="204.4" y2="287.5"/>
<text class="dm" font-size="6.9" text-anchor="middle" transform="translate(146.5 245.2) scale(0.82 1)">160</text>
<line class="d" x1="140.7" y1="246.5" x2="152.3" y2="246.5"/>
<line class="d" x1="140.7" y1="246.4" x2="135" y2="262"/>
<text class="rm" font-size="10.9" text-anchor="start" transform="translate(136.3 203) scale(0.86 1)">3.05</text>
<text class="rm" font-size="10.9" text-anchor="start" transform="translate(136.3 288.6) scale(0.86 1)">3.04</text>
<text class="rm" font-size="10.9" text-anchor="start" transform="translate(273.2 237) scale(0.86 1)">3.02</text>
<text class="rm" font-size="10.9" text-anchor="start" transform="translate(203.3 419.6) scale(0.86 1)">3.03</text>
<text class="rm" font-size="10.9" text-anchor="start" transform="translate(315.09999999999997 392.6) scale(0.86 1)">3.01</text>
<text class="rm" font-size="10.9" text-anchor="start" transform="translate(442.9 355.6) scale(0.86 1)">3.07</text>
<text class="rm" font-size="10.9" text-anchor="start" transform="translate(454.9 201.4) scale(0.86 1)">3.08</text>
<text class="rm" font-size="10.9" text-anchor="start" transform="translate(399.7 453.6) scale(0.86 1)">3.06</text>
<text class="rm" font-size="10.9" text-anchor="start" transform="translate(382.09999999999997 555.8) scale(0.86 1)">3.10</text>
<text class="rm" font-size="10.9" text-anchor="start" transform="translate(435.09999999999997 555) scale(0.86 1)">3.09</text>
<line class="sk" x1="310.5" y1="60" x2="310.5" y2="88.6"/>
<line class="sg" x1="310" y1="60.5" x2="337" y2="60.5"/>
<line class="d" x1="310" y1="60" x2="317.7" y2="52.3"/>
<text class="sec" font-size="12.3" text-anchor="start" transform="translate(337 80.3) rotate(-90) scale(0.8 1)">B-B'</text>
<line class="sk" x1="309.5" y1="663.8" x2="309.5" y2="635.4"/>
<line class="d" x1="309.7" y1="664.5" x2="337" y2="664.5"/>
<line class="d" x1="309.7" y1="664" x2="317.7" y2="671.8"/>
<text class="sec" font-size="12.3" text-anchor="start" transform="translate(335.6 656.8) rotate(-90) scale(0.8 1)">B-B'</text>
<line class="sk" x1="35.4" y1="438.5" x2="64.3" y2="438.5"/>
<line class="d" x1="35.5" y1="438.9" x2="35.5" y2="469"/>
<line class="d" x1="35.4" y1="438.9" x2="27.3" y2="446.6"/>
<text class="sec" font-size="12.3" text-anchor="start" transform="translate(39.9 468.6) scale(0.8 1)">A-Á</text>
<line class="sk" x1="626.3" y1="528.5" x2="597.5" y2="528.5"/>
<line class="d" x1="626.5" y1="528.8" x2="626.5" y2="558"/>
<line class="d" x1="626.3" y1="528.8" x2="633.3" y2="535.5"/>
<text class="sec" font-size="12.3" text-anchor="start" transform="translate(605.5 558) scale(0.8 1)">A-Á</text>
<circle class="cp" cx="929.8" cy="376.3" r="28.5"/>
<line class="cp" x1="895.2" y1="399.2" x2="964.5" y2="354"/>
<line class="cp" x1="907.4" y1="342.1" x2="952.1" y2="411"/>
<line class="cpb" x1="930.5" y1="375.9" x2="953.7" y2="360.9"/>
<rect class="tb" x="659.5" y="136.5" width="318.0" height="152.0"/>
<line class="tb" x1="818.5" y1="136.8" x2="818.5" y2="288.8"/>
<line class="tb" x1="659.8" y1="158.5" x2="977.5" y2="158.5"/>
<line class="tb" x1="659.8" y1="176.5" x2="977.5" y2="176.5"/>
<line class="tb" x1="659.8" y1="195.5" x2="977.5" y2="195.5"/>
<line class="tb" x1="659.8" y1="213.5" x2="977.5" y2="213.5"/>
<line class="tb" x1="659.8" y1="231.5" x2="977.5" y2="231.5"/>
<line class="tb" x1="659.8" y1="249.5" x2="977.5" y2="249.5"/>
<line class="tb" x1="659.8" y1="267.5" x2="977.5" y2="267.5"/>
<line class="tb" x1="688.5" y1="158.2" x2="688.5" y2="267.9"/>
<line class="tb" x1="777.5" y1="158.2" x2="777.5" y2="267.9"/>
<line class="tb" x1="846.5" y1="158.2" x2="846.5" y2="267.9"/>
<line class="tb" x1="935.5" y1="158.2" x2="935.5" y2="267.9"/>
<text class="lt" font-size="10.1" text-anchor="start" transform="translate(676.4 152.4) scale(0.792 1)">LEGENDA MÍSTNOSTÍ / byt č. 5</text>
<text class="lt" font-size="10.1" text-anchor="start" transform="translate(834.6 152.4) scale(0.792 1)">LEGENDA MÍSTNOSTÍ / byt č. 6</text>
<text class="lc" font-size="6.1" text-anchor="start" transform="translate(666.6999999999999 171.7) scale(0.95 1)">Č.M.</text>
<text class="lc" font-size="6.1" text-anchor="start" transform="translate(693.6999999999999 171.7) scale(0.92 1)">ÚČEL MÍSTNOSTI</text>
<text class="lc" font-size="4.8" text-anchor="middle" transform="translate(798.8 170.6) scale(0.95 1)">M²</text>
<text class="ln" font-size="7" text-anchor="start" transform="translate(666.5 189.84999999999997) scale(0.97 1)">3.01</text>
<text class="lc" font-size="6.1" text-anchor="start" transform="translate(693.6999999999999 189.45) scale(0.88 1)">CHODBA</text>
<text class="ln" font-size="7" text-anchor="start" transform="translate(791.3 190.04999999999998) scale(0.97 1)">6,91</text>
<text class="ln" font-size="7" text-anchor="start" transform="translate(666.5 208.5) scale(0.97 1)">3.02</text>
<text class="lc" font-size="6.1" text-anchor="start" transform="translate(693.6999999999999 201.8) scale(0.88 1)">OBYTNÝ PROSTOR</text>
<text class="lc" font-size="6.1" text-anchor="start" transform="translate(693.6999999999999 210.5) scale(0.88 1)">/ KUCHYŇ / JÍDELNA</text>
<text class="ln" font-size="7" text-anchor="start" transform="translate(791.3 208.70000000000002) scale(0.97 1)">27,92</text>
<text class="ln" font-size="7" text-anchor="start" transform="translate(666.5 226.55) scale(0.97 1)">3.03</text>
<text class="lc" font-size="6.1" text-anchor="start" transform="translate(693.6999999999999 226.15000000000003) scale(0.88 1)">POKOJ</text>
<text class="ln" font-size="7" text-anchor="start" transform="translate(791.3 226.75000000000003) scale(0.97 1)">18,49</text>
<text class="ln" font-size="7" text-anchor="start" transform="translate(666.5 244.5) scale(0.97 1)">3.04</text>
<text class="lc" font-size="6.1" text-anchor="start" transform="translate(693.6999999999999 244.10000000000002) scale(0.88 1)">TECHNICKÁ MÍSTNOST</text>
<text class="ln" font-size="7" text-anchor="start" transform="translate(791.3 244.70000000000002) scale(0.97 1)">3,83</text>
<text class="ln" font-size="7" text-anchor="start" transform="translate(666.5 262.55) scale(0.97 1)">3.05</text>
<text class="lc" font-size="6.1" text-anchor="start" transform="translate(693.6999999999999 262.15000000000003) scale(0.88 1)">KOUPELNA + WC</text>
<text class="ln" font-size="7" text-anchor="start" transform="translate(791.3 262.75) scale(0.97 1)">6,15</text>
<text class="lc" font-size="6.1" text-anchor="start" transform="translate(825.0 171.7) scale(0.95 1)">Č.M.</text>
<text class="lc" font-size="6.1" text-anchor="start" transform="translate(852.0 171.7) scale(0.92 1)">ÚČEL MÍSTNOSTI</text>
<text class="lc" font-size="4.8" text-anchor="middle" transform="translate(957.1 170.6) scale(0.95 1)">M²</text>
<text class="ln" font-size="7" text-anchor="start" transform="translate(824.8000000000001 189.84999999999997) scale(0.97 1)">3.06</text>
<text class="lc" font-size="6.1" text-anchor="start" transform="translate(852.0 189.45) scale(0.88 1)">CHODBA</text>
<text class="ln" font-size="7" text-anchor="start" transform="translate(949.6 190.04999999999998) scale(0.97 1)">4,91</text>
<text class="ln" font-size="7" text-anchor="start" transform="translate(824.8000000000001 208.5) scale(0.97 1)">3.07</text>
<text class="lc" font-size="6.1" text-anchor="start" transform="translate(852.0 201.8) scale(0.88 1)">OBYTNÝ PROSTOR</text>
<text class="lc" font-size="6.1" text-anchor="start" transform="translate(852.0 210.5) scale(0.88 1)">/ KUCHYŇ / JÍDELNA</text>
<text class="ln" font-size="7" text-anchor="start" transform="translate(949.6 208.70000000000002) scale(0.97 1)">28,77</text>
<text class="ln" font-size="7" text-anchor="start" transform="translate(824.8000000000001 226.55) scale(0.97 1)">3.08</text>
<text class="lc" font-size="6.1" text-anchor="start" transform="translate(852.0 226.15000000000003) scale(0.88 1)">POKOJ</text>
<text class="ln" font-size="7" text-anchor="start" transform="translate(949.6 226.75000000000003) scale(0.97 1)">16,01</text>
<text class="ln" font-size="7" text-anchor="start" transform="translate(824.8000000000001 244.5) scale(0.97 1)">3.09</text>
<text class="lc" font-size="6.1" text-anchor="start" transform="translate(852.0 244.10000000000002) scale(0.88 1)">KOUPELNA</text>
<text class="ln" font-size="7" text-anchor="start" transform="translate(949.6 244.70000000000002) scale(0.97 1)">7,27</text>
<text class="ln" font-size="7" text-anchor="start" transform="translate(824.8000000000001 262.55) scale(0.97 1)">3.10</text>
<text class="lc" font-size="6.1" text-anchor="start" transform="translate(852.0 262.15000000000003) scale(0.88 1)">WC</text>
<text class="ln" font-size="7" text-anchor="start" transform="translate(949.6 262.75) scale(0.97 1)">3,53</text>
<text class="lp" font-size="7.1" x="677.5" y="280.5" textLength="73.2" lengthAdjust="spacing">PODLAHOVÁ PLOCHA</text>
<text class="lp2" font-size="7" x="770.3" y="280.5" textLength="24.6" lengthAdjust="spacingAndGlyphs">63,3 m2</text>
<text class="lp" font-size="7.1" x="834.6" y="281" textLength="72.6" lengthAdjust="spacing">PODLAHOVÁ PLOCHA</text>
<text class="lp2" font-size="7" x="927.4" y="281" textLength="27.5" lengthAdjust="spacingAndGlyphs">60,49 m2</text>
<defs><linearGradient id="lg" x1="0" y1="0" x2="1" y2="0"><stop offset="0" stop-color="#121c33"/><stop offset="0.45" stop-color="#26477e"/><stop offset="1" stop-color="#4f86c4"/></linearGradient></defs>
<text class="logo" x="866" y="652.6" font-size="58.5" textLength="93.5" lengthAdjust="spacingAndGlyphs">PLT</text>
<text class="logo2" x="885.6" y="669.2" font-size="13.6" textLength="53.6" lengthAdjust="spacingAndGlyphs">REALITY</text>
</svg>
<div id="ftr"></div>
</body></html>
